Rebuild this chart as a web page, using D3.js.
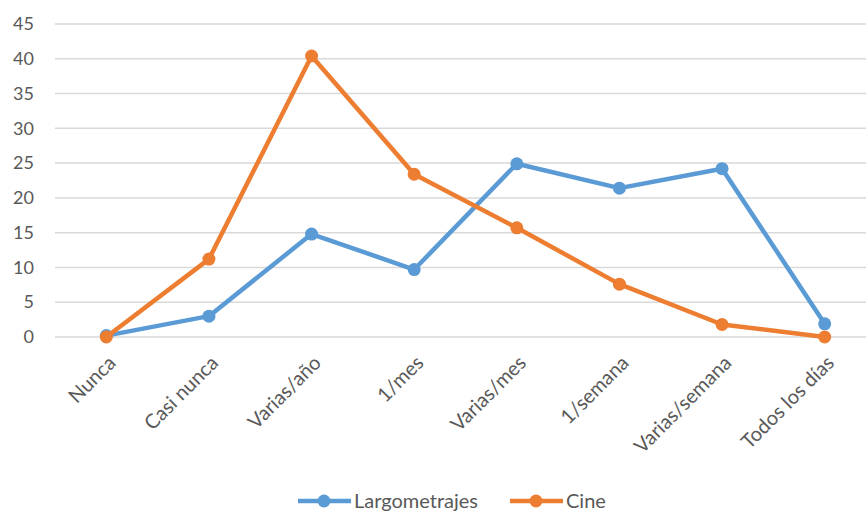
<!DOCTYPE html>
<html>
<head>
<meta charset="utf-8">
<script src="https://cdn.jsdelivr.net/npm/d3@7"></script>
<style>
  body { margin: 0; background: #fff; }
  svg { display: block; }
  text { font-family: Lato, "Open Sans", sans-serif; }
</style>
</head>
<body>
<div id="chart"></div>
<script>
const categories = ["Nunca", "Casi nunca", "Varias/año", "1/mes", "Varias/mes", "1/semana", "Varias/semana", "Todos los días"];
const largometrajes = [0.2, 3.0, 14.8, 9.7, 24.9, 21.4, 24.2, 1.9];
const cine = [0, 11.2, 40.4, 23.4, 15.7, 7.6, 1.8, 0];
const yTicks = [0, 5, 10, 15, 20, 25, 30, 35, 40, 45];

const seriesList = [
    { name: "Largometrajes", values: largometrajes, color: "#5B9BD5" },
    { name: "Cine", values: cine, color: "#ED7D31" }
];

const width = 866, height = 513;
const margin = { top: 24, left: 55, bottom: 176 };

const svg = d3.select("#chart")
    .append("svg")
    .attr("width", width)
    .attr("height", height);

// plot area runs a bit past the right edge, like the original
const x = d3.scalePoint()
    .domain(categories)
    .range([margin.left, 876])
    .padding(0.5);

const y = d3.scaleLinear()
    .domain([0, 45])
    .range([height - margin.bottom, margin.top]);

// gridlines
svg.append("g")
    .selectAll("line")
    .data(yTicks)
    .join("line")
    .attr("x1", margin.left)
    .attr("x2", width)
    .attr("y1", d => y(d))
    .attr("y2", d => y(d))
    .attr("stroke", "#d9d9d9")
    .attr("stroke-width", 1.5);

// y axis labels
const yAxis = svg.append("g")
    .attr("transform", `translate(${margin.left}, 0)`)
    .call(d3.axisLeft(y).tickValues(yTicks).tickSize(0).tickPadding(21));
yAxis.select(".domain").remove();
yAxis.selectAll("text")
    .style("font-family", "Lato, sans-serif")
    .style("font-size", "18px")
    .attr("fill", "#595959");

// x axis labels
const xAxis = svg.append("g")
    .attr("transform", `translate(0, ${y(0)})`)
    .call(d3.axisBottom(x).tickSize(0));
xAxis.select(".domain").remove();
xAxis.selectAll("text")
    .style("font-family", "Lato, sans-serif")
    .style("font-size", "20px")
    .attr("fill", "#595959")
    .style("text-anchor", "end")
    .attr("dy", 0)
    .attr("transform", "translate(8, 25) rotate(-45)");

const line = d3.line()
    .x((d, i) => x(categories[i]))
    .y(d => y(d));

seriesList.forEach(s => {
    const g = svg.append("g");
    g.append("path")
        .datum(s.values)
        .attr("d", line)
        .attr("fill", "none")
        .attr("stroke", s.color)
        .attr("stroke-width", 4.5)
        .attr("stroke-linejoin", "round");
    g.selectAll("circle")
        .data(s.values)
        .join("circle")
        .attr("cx", (d, i) => x(categories[i]))
        .attr("cy", d => y(d))
        .attr("r", 6.5)
        .attr("fill", s.color);
});

// legend
const legendItems = [
    { name: "Largometrajes", color: "#5B9BD5", x: 298 },
    { name: "Cine", color: "#ED7D31", x: 510 }
];
const legend = svg.append("g").attr("transform", "translate(0, 501)");
legendItems.forEach(it => {
    const lg = legend.append("g").attr("transform", `translate(${it.x}, 0)`);
    lg.append("line")
        .attr("x1", 0).attr("x2", 53)
        .attr("stroke", it.color)
        .attr("stroke-width", 4.5);
    lg.append("circle")
        .attr("cx", 26).attr("r", 6.5)
        .attr("fill", it.color);
    lg.append("text")
        .attr("x", 56)
        .attr("dy", "0.35em")
        .style("font-size", "20px")
        .attr("fill", "#595959")
        .text(it.name);
});
</script>
</body>
</html>
